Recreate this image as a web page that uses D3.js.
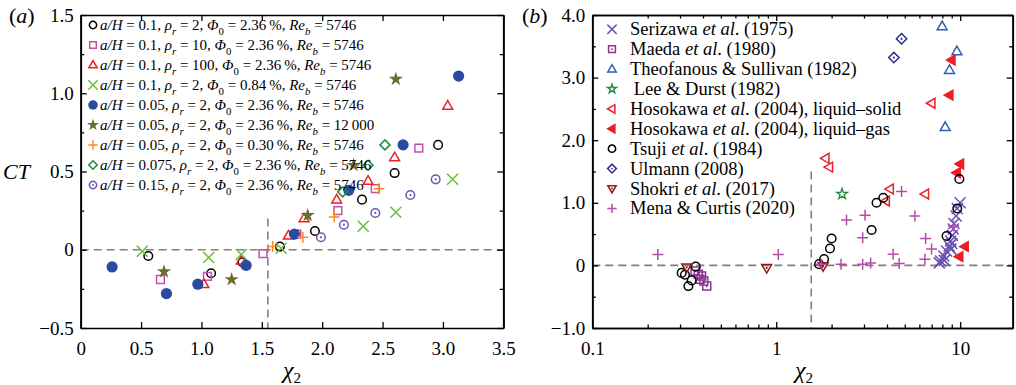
<!DOCTYPE html>
<html>
<head>
<meta charset="utf-8">
<script src="https://cdn.jsdelivr.net/npm/d3@7"></script>
<style>
  body { margin: 0; background: #fff; }
  text { font-family: "Liberation Serif", "Times New Roman", serif; fill: #000; }
</style>
</head>
<body>
<svg id="chart" width="1016" height="385"></svg>
<script>
// ---------- Panel (a): CT versus chi_2 for the simulated cases ----------
const caseOpenCircle  = [[0.56,-0.04],[1.08,-0.15],[1.34,-0.08],[1.65,0.02],[1.94,0.12],[2.33,0.32],[2.60,0.49],[2.96,0.67]];
const caseSquare      = [[0.66,-0.19],[1.05,-0.17],[1.51,-0.025],[1.79,0.10],[2.13,0.25],[2.44,0.39],[2.80,0.65]];
const caseTriangle    = [[1.02,-0.22],[1.33,-0.07],[1.72,0.09],[1.85,0.20],[2.12,0.32],[2.38,0.44],[2.60,0.59],[3.04,0.92]];
const caseCross       = [[0.51,-0.01],[1.06,-0.05],[1.33,-0.03],[1.66,0.01],[2.34,0.15],[2.61,0.24],[3.08,0.45]];
const caseFilledDot   = [[0.26,-0.11],[0.71,-0.28],[0.97,-0.22],[1.37,-0.10],[1.77,0.10],[2.22,0.38],[2.67,0.67],[3.13,1.11]];
const caseStar        = [[0.69,-0.14],[1.25,-0.19],[1.88,0.22],[2.26,0.54],[2.61,1.09]];
const casePlus        = [[1.59,0.02],[1.84,0.08],[2.10,0.21],[2.47,0.39]];
const caseDiamond     = [[2.17,0.37],[2.38,0.54],[2.52,0.67]];
const caseDotCircle   = [[1.99,0.08],[2.18,0.16],[2.44,0.235],[2.73,0.35],[2.94,0.45]];

const legendAH  = ["0.1","0.1","0.1","0.1","0.05","0.05","0.05","0.075","0.15"];
const legendRho = ["2","10","100","2","2","2","2","2","2"];
const legendPhi = ["2.36","2.36","2.36","0.84","2.36","2.36","0.30","2.36","2.36"];
const legendRe  = ["5746","5746","5746","5746","5746","12\u2009000","5746","5746","5746"];

const xTicksA = [0,0.5,1,1.5,2,2.5,3,3.5];
const yTicksA = [-0.5,0,0.5,1,1.5];
const yMinorA = [-0.25,0.25,0.75,1.25];

// ---------- Panel (b): experimental data from the literature ----------
const serizawa   = [[7.7,0.04],[7.82,0.07],[8.2,0.08],[8.15,0.15],[8.43,0.23],[8.9,0.26],[8.71,0.31],[8.87,0.39],[9.0,0.35],[9.07,0.48],[9.18,0.58],[9.25,0.67],[9.5,0.79],[9.64,0.91],[10.0,1.0]];
const maeda      = [[0.362,-0.09],[0.377,-0.14],[0.393,-0.17],[0.385,-0.22],[0.404,-0.25],[0.419,-0.33]];
const theofanous = [[7.98,3.82],[9.6,3.42],[8.75,3.12],[8.29,2.21]];
const leeDurst   = [[2.28,1.14]];
const hosoSolid  = [[1.855,1.71],[1.94,1.57],[3.95,1.03],[4.15,1.22],[6.45,1.14],[6.99,2.59]];
const hosoGas    = [[8.98,3.28],[8.75,2.72],[10.0,1.62],[9.6,1.48],[10.6,0.30],[9.9,0.14]];
const tsuji      = [[0.365,-0.02],[0.306,-0.12],[0.319,-0.15],[0.347,-0.24],[0.333,-0.33],[1.71,0.02],[1.82,0.10],[1.96,0.27],[2.0,0.43],[3.30,0.565],[3.51,1.0],[3.82,1.08],[8.43,0.47],[9.64,0.91],[9.9,1.38]];
const ulmann     = [[4.80,3.62],[4.36,3.32]];
const shokri     = [[0.326,-0.03],[0.887,-0.04],[1.80,-0.01]];
const mena       = [[0.227,0.176],[1.026,0.176],[1.76,0.02],[2.25,0.02],[2.41,0.725],[3.04,0.80],[2.95,0.44],[2.95,0.02],[3.26,0.04],[4.32,0.18],[4.66,0.03],[4.8,1.18],[5.67,0.79],[6.49,0.43],[6.99,0.26],[6.43,0.10],[9.2,0.63]];

const sourceNames = [
  [["Serizawa "],["et al","i"],[". (1975)"]],
  [["Maeda "],["et al","i"],[". (1980)"]],
  [["Theofanous & Sullivan (1982)"]],
  [["\u2009Lee & Durst (1982)"]],
  [["Hosokawa "],["et al","i"],[". (2004), liquid\u2013solid"]],
  [["Hosokawa "],["et al","i"],[". (2004), liquid\u2013gas"]],
  [["Tsuji "],["et al","i"],[". (1984)"]],
  [["Ulmann (2008)"]],
  [["Shokri "],["et al","i"],[". (2017)"]],
  [["Mena & Curtis (2020)"]]
];

const xTicksB = [0.1,1,10];
const xMinorB = [0.2,0.3,0.4,0.5,0.6,0.7,0.8,0.9,2,3,4,5,6,7,8,9];
const yTicksB = [-1,0,1,2,3,4];
const yMinorB = [-0.5,0.5,1.5,2.5,3.5];

const chiCritical = 1.55;

// ---------- marker drawing ----------
function marker(g, type, color, x, y, s) {
  s = s || 1;
  const sw = 1.5;
  const add = (d, fill) => g.append("path").attr("d", d).attr("transform", `translate(${x},${y})`)
      .attr("fill", fill ? color : "none").attr("stroke", color).attr("stroke-width", sw)
      .attr("stroke-linejoin", "miter");
  const dot = () => g.append("circle").attr("cx", x).attr("cy", y).attr("r", 1.1 * s).attr("fill", color);
  const r = 4.3 * s;
  switch (type) {
    case "circle": add(d3.symbol(d3.symbolCircle, Math.PI * r * r)()); break;
    case "dotcircle": add(d3.symbol(d3.symbolCircle, Math.PI * r * r)()); dot(); break;
    case "filled": g.append("circle").attr("cx", x).attr("cy", y).attr("r", 5.6 * s).attr("fill", color); break;
    case "square": { const a = 3.9 * s; add(`M${-a},${-a}H${a}V${a}H${-a}Z`); break; }
    case "dotsquare": { const a = 4 * s; add(`M${-a},${-a}H${a}V${a}H${-a}Z`); dot(); break; }
    case "triangle": { const a = 5.2 * s; add(`M0,${-a}L${a*0.95},${a*0.65}L${-a*0.95},${a*0.65}Z`); break; }
    case "dottriangledown": { const a = 5.2 * s; add(`M0,${a}L${a*0.95},${-a*0.65}L${-a*0.95},${-a*0.65}Z`); dot(); break; }
    case "lefttri": { const a = 5.2 * s; add(`M${-a},0L${a*0.65},${-a*0.95}L${a*0.65},${a*0.95}Z`); break; }
    case "lefttrifill": { const a = 5.2 * s; add(`M${-a},0L${a*0.65},${-a*0.95}L${a*0.65},${a*0.95}Z`, true); break; }
    case "cross": { const a = 5.5 * s; add(`M${-a},${-a}L${a},${a}M${-a},${a}L${a},${-a}`); break; }
    case "plus": { const a = 5.5 * s; add(`M${-a},0H${a}M0,${-a}V${a}`); break; }
    case "diamond": { const a = 5 * s; add(`M0,${-a}L${a},0L0,${a}L${-a},0Z`); break; }
    case "dotdiamond": { const a = 5.2 * s; add(`M0,${-a}L${a},0L0,${a}L${-a},0Z`); dot(); break; }
    case "star": g.append("path").attr("d", d3.symbol(d3.symbolStar, 62 * s * s)())
        .attr("transform", `translate(${x},${y})`).attr("fill", color); break;
    case "openstar": g.append("path").attr("d", d3.symbol(d3.symbolStar, 36 * s * s)())
        .attr("transform", `translate(${x},${y})`).attr("fill", "none").attr("stroke", color).attr("stroke-width", 1.3); break;
  }
}

// rich text: parts = [[text, style]], style in {undefined,"i","sub","isub"}
function rich(g, x, y, parts, size) {
  const t = g.append("text").attr("x", x).attr("y", y).attr("font-size", size);
  let shifted = false;
  parts.forEach(([txt, st]) => {
    const sp = t.append("tspan").text(txt);
    if (st === "i" || st === "isub") sp.attr("font-style", "italic");
    if (st === "sub" || st === "isub") {
      sp.attr("font-size", size * 0.72);
      if (!shifted) { sp.attr("dy", size * 0.3); shifted = true; }
    } else if (shifted) { sp.attr("dy", -size * 0.3); shifted = false; }
  });
  return t;
}

const svg = d3.select("#chart");

function frame(x, y, xMajor, xMinor, yMajor, yMinor, xFmt, yFmt) {
  const g = svg.append("g");
  const [x0, x1] = x.range(), [y0, y1] = y.range();
  const major = 6, minor = 3.5;
  const put = (axis, tr) => {
    const a = g.append("g").attr("transform", tr).call(axis);
    a.selectAll(".domain").attr("stroke", "#000").attr("stroke-width", 1.7);
    a.selectAll(".tick line").attr("stroke", "#000").attr("stroke-width", 1.3);
    a.selectAll("text").attr("font-family", "Liberation Serif").attr("font-size", 19).attr("fill", "#000");
    return a;
  };
  put(d3.axisBottom(x).tickValues(xMajor).tickSize(-major).tickSizeOuter(0).tickPadding(14).tickFormat(xFmt), `translate(0,${y0})`);
  put(d3.axisTop(x).tickValues(xMajor).tickSize(-major).tickSizeOuter(0).tickFormat(""), `translate(0,${y1})`);
  put(d3.axisLeft(y).tickValues(yMajor).tickSize(-major).tickSizeOuter(0).tickPadding(7).tickFormat(yFmt), `translate(${x0},0)`);
  put(d3.axisRight(y).tickValues(yMajor).tickSize(-major).tickSizeOuter(0).tickFormat(""), `translate(${x1},0)`);
  if (xMinor) {
    put(d3.axisBottom(x).tickValues(xMinor).tickSize(-minor).tickSizeOuter(0).tickFormat(""), `translate(0,${y0})`);
    put(d3.axisTop(x).tickValues(xMinor).tickSize(-minor).tickSizeOuter(0).tickFormat(""), `translate(0,${y1})`);
  }
  if (yMinor) {
    put(d3.axisLeft(y).tickValues(yMinor).tickSize(-minor).tickSizeOuter(0).tickFormat(""), `translate(${x0},0)`);
    put(d3.axisRight(y).tickValues(yMinor).tickSize(-minor).tickSizeOuter(0).tickFormat(""), `translate(${x1},0)`);
  }
}

function guides(x, y, yTop) {
  const g = svg.append("g").attr("stroke", "#808080").attr("stroke-width", 1.6).attr("stroke-dasharray", "8,5").attr("fill", "none");
  g.append("line").attr("x1", x.range()[0]).attr("x2", x.range()[1]).attr("y1", y(0)).attr("y2", y(0));
  g.append("line").attr("x1", x(chiCritical)).attr("x2", x(chiCritical)).attr("y1", y(yTop)).attr("y2", y.range()[0]);
}

const minusFmt = (d, digits) => d === 0 ? "0" : (d < 0 ? "\u2212" : "") + Math.abs(d).toFixed(digits);

// ---------- panel (a) ----------
const xA = d3.scaleLinear([0, 3.5], [80.7, 503.3]);
const yA = d3.scaleLinear([-0.5, 1.5], [328, 15]);
guides(xA, yA, 0.2);
frame(xA, yA, xTicksA, null, yTicksA, yMinorA, d => minusFmt(d, 1), d => minusFmt(d, 1));

const seriesA = [
  [caseOpenCircle, "circle", "#000000"],
  [caseSquare, "square", "#c44fb0"],
  [caseTriangle, "triangle", "#ee2026"],
  [caseCross, "cross", "#66c03c"],
  [caseFilledDot, "filled", "#2a4aa0"],
  [caseStar, "star", "#6f6a2d"],
  [casePlus, "plus", "#ff8a1e"],
  [caseDiamond, "diamond", "#1f8a3c"],
  [caseDotCircle, "dotcircle", "#7052b0"]
];
const gA = svg.append("g");
seriesA.forEach(([data, type, color]) => data.forEach(([cx, ct]) => marker(gA, type, color, xA(cx), yA(ct))));

const legA = svg.append("g");
seriesA.forEach(([, type, color], i) => {
  const cy = 25 + i * 20;
  marker(legA, type, color, 93, cy, 0.85);
  rich(legA, 100, cy + 5, [
    ["a/H", "i"], [` = ${legendAH[i]}, `],
    ["\u03c1", "i"], ["r", "isub"], [` = ${legendRho[i]}, `],
    ["\u03a6", "i"], ["0", "sub"], [` = ${legendPhi[i]}\u2009%, `],
    ["Re", "i"], ["b", "isub"], [` = ${legendRe[i]}`]
  ], 15);
});

// ---------- panel (b) ----------
const xB = d3.scaleLog([0.1, 19.3], [592.3, 1012.7]);
const yB = d3.scaleLinear([-1, 4], [328, 15]);
guides(xB, yB, 1.5);
frame(xB, yB, xTicksB, xMinorB, yTicksB, yMinorB, d => d >= 1 ? String(d) : "0.1", d => minusFmt(d, 1));

const seriesB = [
  [serizawa, "cross", "#6a4fb5"],
  [maeda, "dotsquare", "#8a3592"],
  [theofanous, "triangle", "#2f5bb5"],
  [leeDurst, "openstar", "#1f8a3c"],
  [hosoSolid, "lefttri", "#ee1c24"],
  [hosoGas, "lefttrifill", "#ee1c24"],
  [tsuji, "circle", "#000000"],
  [ulmann, "dotdiamond", "#2c2c8c"],
  [shokri, "dottriangledown", "#8c1c1c"],
  [mena, "plus", "#b84aa8"]
];
const gB = svg.append("g");
seriesB.forEach(([data, type, color]) => data.forEach(([cx, ct]) => marker(gB, type, color, xB(cx), yB(ct))));

const legB = svg.append("g");
seriesB.forEach(([, type, color], i) => {
  const cy = 29.3 + i * 19.9;
  marker(legB, type, color, 612, cy, 0.85);
  rich(legB, 630, cy + 6, sourceNames[i], 18.5);
});

// ---------- labels ----------
rich(svg, 9, 23, [["("], ["a", "i"], [")"]], 22);
rich(svg, 522, 23, [["("], ["b", "i"], [")"]], 22);
rich(svg, 3, 179, [["CT", "i"]], 22);
[292, 804].forEach(cx => {
  const t = svg.append("text").attr("x", cx).attr("y", 378).attr("text-anchor", "middle").attr("font-size", 24);
  t.append("tspan").text("\u03c7").attr("font-style", "italic");
  t.append("tspan").text("2").attr("font-size", 15).attr("dy", 5);
});
</script>
</body>
</html>
